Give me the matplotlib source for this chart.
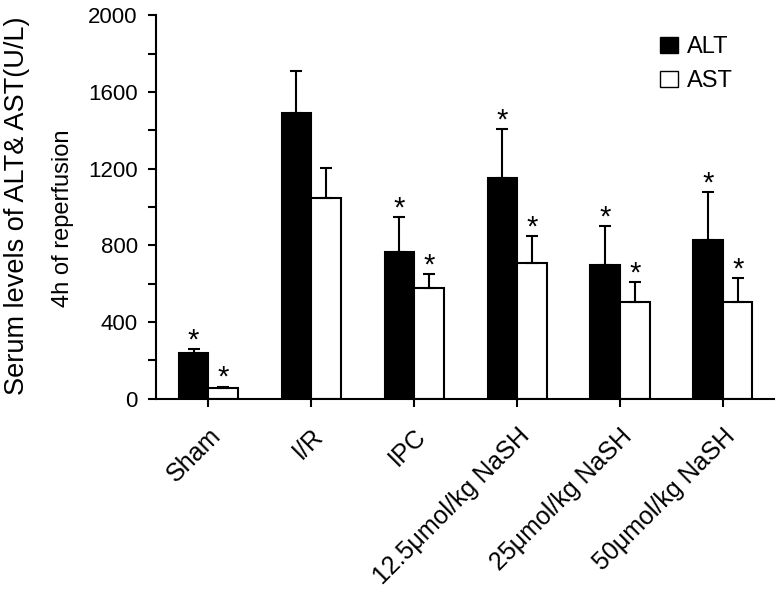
import matplotlib
matplotlib.use("Agg")
import matplotlib.pyplot as plt
import numpy as np
from matplotlib.patches import Patch

plt.rcParams['font.family'] = ['Liberation Sans', 'DejaVu Sans']

categories = ["Sham", "I/R", "IPC", "12.5\u03bcmol/kg NaSH", "25\u03bcmol/kg NaSH", "50\u03bcmol/kg NaSH"]
alt_mean = [238, 1491, 767, 1149, 700, 830]
alt_err = [21, 216, 179, 255, 199, 246]
ast_mean = [54, 1048, 580, 710, 507, 507]
ast_err = [10, 157, 69, 139, 101, 123]
alt_sig = [True, False, True, True, True, True]
ast_sig = [True, False, True, True, True, True]
yticks = [0, 200, 400, 600, 800, 1000, 1200, 1400, 1600, 1800, 2000]
ytick_labels = ["0", "", "400", "", "800", "", "1200", "", "1600", "", "2000"]

fig = plt.figure(figsize=(7.83, 6.07), dpi=100)
ax = fig.add_axes([0.199, 0.343, 0.79, 0.632])

x = np.arange(len(categories))
w = 0.287
ax.bar(x - w/2, alt_mean, w, color='black', edgecolor='black', linewidth=1.5,
       yerr=[np.zeros(len(x)), alt_err], capsize=4,
       error_kw=dict(ecolor='black', elinewidth=1.5, capthick=1.5), label='ALT')
ax.bar(x + w/2, ast_mean, w, color='white', edgecolor='black', linewidth=1.5,
       yerr=[np.zeros(len(x)), ast_err], capsize=4,
       error_kw=dict(ecolor='black', elinewidth=1.5, capthick=1.5), label='AST')

for i in range(len(x)):
    if alt_sig[i]:
        ax.annotate('*', (x[i] - w/2, alt_mean[i] + alt_err[i]), xytext=(0, 0.5),
                    textcoords='offset points', ha='center', va='baseline', fontsize=21)
    if ast_sig[i]:
        ax.annotate('*', (x[i] + w/2, ast_mean[i] + ast_err[i]), xytext=(0, 0.5),
                    textcoords='offset points', ha='center', va='baseline', fontsize=21)

ax.set_xlim(-0.51, 5.5)
ax.set_ylim(0, 2000)
ax.set_yticks(yticks)
ax.set_yticklabels(ytick_labels, fontsize=16)
ax.set_xticks(x)
ax.set_xticklabels(categories, rotation=45, ha='right', rotation_mode='anchor', fontsize=18)
ax.tick_params(axis='both', direction='out', length=6, width=1.5)
ax.tick_params(axis='y', pad=7)
ax.tick_params(axis='x', pad=12)
for s in ['top', 'right']:
    ax.spines[s].set_visible(False)
for s in ['left', 'bottom']:
    ax.spines[s].set_linewidth(1.5)

fig.text(17/783, 1 - 206/607, "Serum levels of ALT& AST(U/L)", rotation=90, fontsize=19.5,
         ha='center', va='center')
fig.text(63/783, 1 - 218/607, "4h of reperfusion", rotation=90, fontsize=17,
         ha='center', va='center')

handles = [Patch(facecolor='black', edgecolor='black'), Patch(facecolor='white', edgecolor='black')]
ax.legend(handles, ['ALT', 'AST'], loc='upper left', bbox_to_anchor=((660 - 156) / 618, (399 - 36) / 384),
          frameon=False, borderaxespad=0, borderpad=0,
          fontsize=17, handlelength=0.75, handleheight=0.65, handletextpad=0.4, labelspacing=0.5)

fig.savefig("out.png", dpi=100)
